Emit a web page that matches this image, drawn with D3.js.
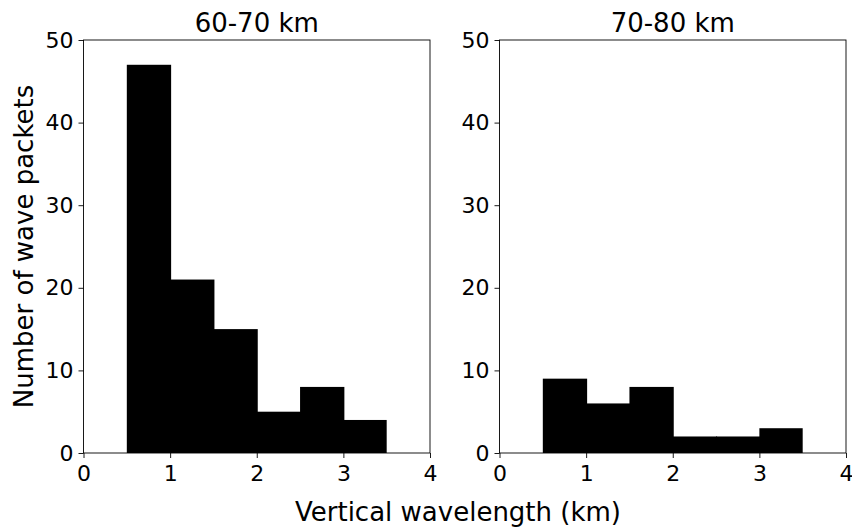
<!DOCTYPE html>
<html>
<head>
<meta charset="utf-8">
<script src="https://cdn.jsdelivr.net/npm/d3@7"></script>
<style>
  body { margin: 0; background: #fff; }
  svg { font-family: "DejaVu Sans", sans-serif; }
</style>
</head>
<body>
<div id="chart"></div>
<script>
// histogram bins (km) and counts per altitude range
const binEdges = [0.5, 1.0, 1.5, 2.0, 2.5, 3.0, 3.5];
const counts6070 = [47, 21, 15, 5, 8, 4];
const counts7080 = [9, 6, 8, 2, 2, 3];
const panelTitles = ["60-70 km", "70-80 km"];
const xTicks = [0, 1, 2, 3, 4];
const yTicks = [0, 10, 20, 30, 40, 50];

const width = 852, height = 528;
const svg = d3.select("#chart").append("svg")
  .attr("width", width)
  .attr("height", height);

const plotTop = 40, plotBottom = 453;
const panels = [
  { left: 83.5, right: 430, counts: counts6070, title: panelTitles[0] },
  { left: 499.5, right: 846, counts: counts7080, title: panelTitles[1] }
];

const y = d3.scaleLinear().domain([0, 50]).range([plotBottom, plotTop]);

panels.forEach(p => {
  const x = d3.scaleLinear().domain([0, 4]).range([p.left, p.right]);
  const g = svg.append("g");

  // bars (slight overlap so no seams show between neighbours)
  const bins = p.counts.map((c, i) => ({ x0: binEdges[i], x1: binEdges[i + 1], n: c }));
  g.selectAll("rect.bar")
    .data(bins)
    .enter()
    .append("rect")
    .attr("class", "bar")
    .attr("x", d => x(d.x0))
    .attr("width", (d, i) => x(d.x1) - x(d.x0) + (i < bins.length - 1 ? 1 : 0))
    .attr("y", d => y(d.n))
    .attr("height", d => y(0) - y(d.n))
    .attr("fill", "#000");

  // axes
  const xAxis = g.append("g")
    .attr("transform", `translate(0,${plotBottom})`)
    .call(d3.axisBottom(x).tickValues(xTicks).tickFormat(d3.format("d"))
      .tickSize(5).tickPadding(7).tickSizeOuter(0));
  const yAxis = g.append("g")
    .attr("transform", `translate(${p.left},0)`)
    .call(d3.axisLeft(y).tickValues(yTicks).tickFormat(d3.format("d"))
      .tickSize(5).tickPadding(5).tickSizeOuter(0));

  [xAxis, yAxis].forEach(a => {
    a.select(".domain").remove();
    a.selectAll("text").attr("font-size", 22).attr("fill", "#000")
      .attr("font-family", "DejaVu Sans, sans-serif");
    a.selectAll("line").attr("stroke", "#000").attr("stroke-width", 0.9);
  });

  // frame
  g.append("rect")
    .attr("x", p.left)
    .attr("y", plotTop)
    .attr("width", p.right - p.left)
    .attr("height", plotBottom - plotTop)
    .attr("fill", "none")
    .attr("stroke", "#000")
    .attr("stroke-width", 0.9);

  g.append("text")
    .attr("x", (p.left + p.right) / 2)
    .attr("y", 32)
    .attr("text-anchor", "middle")
    .attr("font-size", 26)
    .text(p.title);
});

svg.append("text")
  .attr("x", 458)
  .attr("y", 521)
  .attr("text-anchor", "middle")
  .attr("font-size", 26)
  .text("Vertical wavelength (km)");

svg.append("text")
  .attr("transform", `translate(33,${(plotTop + plotBottom) / 2}) rotate(-90)`)
  .attr("text-anchor", "middle")
  .attr("font-size", 26)
  .text("Number of wave packets");
</script>
</body>
</html>
